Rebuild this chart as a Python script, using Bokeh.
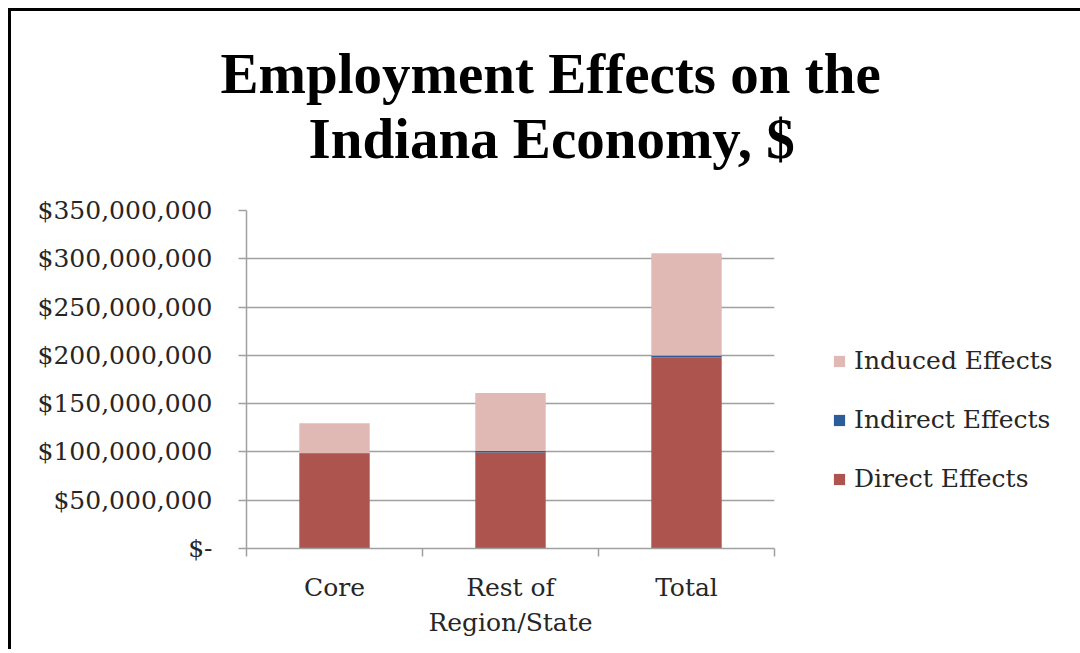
from bokeh.plotting import figure
from bokeh.models import (Range1d, LinearAxis, FixedTicker, Legend, LegendItem,
                          Title, ColumnDataSource, Grid)
from bokeh.embed import file_html
from bokeh.resources import INLINE

# ---- data ----
categories = ["Core", "Rest of\nRegion/State", "Total"]
direct = [98.5e6, 99.5e6, 198.0e6]
indirect = [0.3e6, 1.5e6, 1.8e6]
induced = [31.0e6, 60.0e6, 106.0e6]
series = ["Direct Effects", "Indirect Effects", "Induced Effects"]
colors = ["#AC544D", "#2C5D98", "#E0B8B4"]
y_ticks = [0, 50e6, 100e6, 150e6, 200e6, 250e6, 300e6, 350e6]
title_lines = ["Employment Effects on the", "Indiana Economy, $"]

SERIF = "DejaVu Serif"
TITLE_FONT = "Liberation Serif"
GREY = "#a0a0a0"
TXT = "#262626"

n = len(categories)
centers = [i + 0.5 for i in range(n)]
bounds = list(range(n + 1))

source = ColumnDataSource(data={
    "x": centers,
    series[0]: direct,
    series[1]: indirect,
    series[2]: induced,
})

p = figure(frame_width=528, frame_height=338,
           x_range=Range1d(bounds[0], bounds[-1]), y_range=Range1d(0, y_ticks[-1]),
           x_axis_type=None, y_axis_type=None,
           output_backend="svg", toolbar_location=None,
           min_border_left=235, min_border_right=306,
           min_border_top=199, min_border_bottom=101,
           styles={"border-top": "3px solid black", "border-left": "3px solid black",
                   "margin-top": "8px", "margin-left": "8px"})
p.title.visible = False
p.outline_line_color = None
p.background_fill_color = "white"
p.border_fill_color = "white"

renderers = p.vbar_stack(series, x="x", width=0.4, source=source,
                         fill_color=colors, line_color=None)

# y axis
yaxis = LinearAxis(ticker=FixedTicker(ticks=y_ticks),
                   major_label_overrides={v: ("$-" if v == 0 else f"${v:,.0f}") for v in y_ticks},
                   major_label_text_font=SERIF, major_label_text_font_size="25px",
                   major_label_text_color=TXT, major_label_standoff=26,
                   major_tick_out=8, major_tick_in=0,
                   major_tick_line_color=GREY, major_tick_line_width=1.5,
                   axis_line_color=GREY, axis_line_width=1.5)
p.add_layout(yaxis, "left")
p.add_layout(Grid(dimension=1, ticker=yaxis.ticker, grid_line_color=GREY,
                  grid_line_width=1.5))

# x axis: labels at category centres, tick marks at category boundaries
xaxis = LinearAxis(ticker=FixedTicker(ticks=centers, minor_ticks=bounds),
                   major_label_overrides=dict(zip(centers, categories)),
                   major_label_text_font=SERIF, major_label_text_font_size="25px",
                   major_label_text_color=TXT, major_label_standoff=16,
                   major_label_text_line_height=1.22,
                   major_tick_out=0, major_tick_in=0, major_tick_line_color=None,
                   minor_tick_out=8, minor_tick_in=0,
                   minor_tick_line_color=GREY, minor_tick_line_width=1.5,
                   axis_line_color=GREY, axis_line_width=1.5)
p.add_layout(xaxis, "below")

# titles (second line first: closest to the frame); the trailing line break
# leaves the gap between the title and the plot area
p.add_layout(Title(text=title_lines[1] + "\n", align="left", offset=62, standoff=0,
                   text_font=TITLE_FONT, text_font_size="57px", text_font_style="bold",
                   text_line_height=0.65, text_color="black"), "above")
p.add_layout(Title(text=title_lines[0], align="left", offset=-26, standoff=0,
                   text_font=TITLE_FONT, text_font_size="57px", text_font_style="bold",
                   text_color="black"), "above")

# legend
items = [LegendItem(label=s, renderers=[r]) for s, r in reversed(list(zip(series, renderers)))]
legend = Legend(items=items, location=(58, 55), orientation="vertical",
                label_text_font=SERIF, label_text_font_size="25px", label_text_color=TXT,
                glyph_width=14, glyph_height=14, label_standoff=8,
                spacing=30, padding=0, margin=0,
                border_line_color=None, background_fill_alpha=0)
p.add_layout(legend, "right")

open("out.html", "w").write(file_html(p, INLINE))
